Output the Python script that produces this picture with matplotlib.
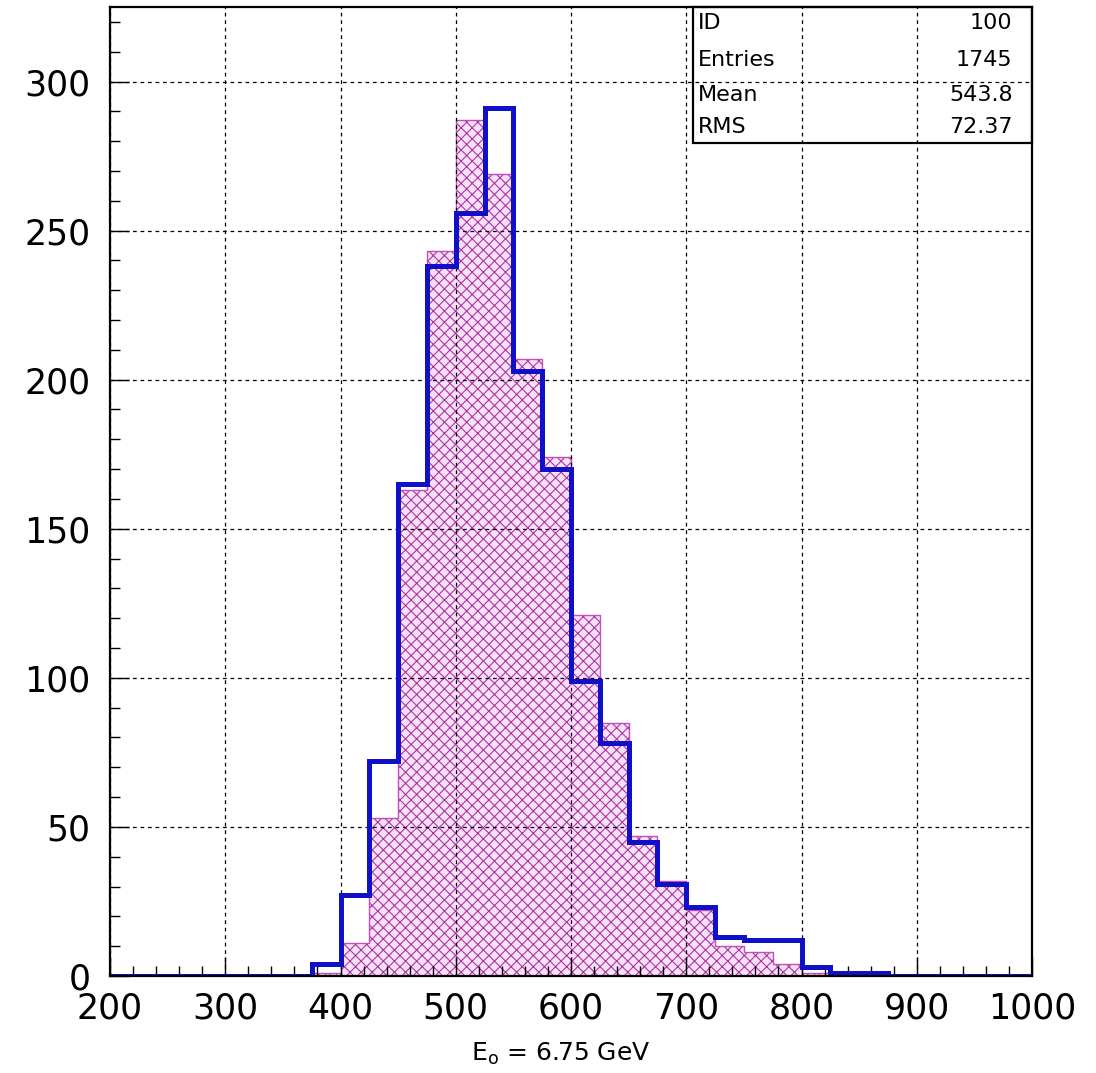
import numpy as np
import matplotlib
matplotlib.use("Agg")
import matplotlib.pyplot as plt
from matplotlib.patches import Rectangle
from matplotlib.ticker import MultipleLocator

# Bin edges: 25-unit bins from 200 to 1000
bin_lo = 200
bin_hi = 1000
bin_w = 25

# Filled (hatched) histogram contents, bins starting at 375
filled_start = 375
filled_counts = [1, 11, 53, 163, 243, 287, 269, 207, 174, 121, 85, 47, 32, 22, 10, 8, 4, 1]

# Outline histogram contents, bins starting at 375
line_start = 375
line_counts = [4, 27, 72, 165, 238, 256, 291, 203, 170, 99, 78, 45, 31, 23, 13, 12, 12, 3, 1, 1]

stats_labels = ["ID", "Entries", "Mean", "RMS"]
stats_values = ["100", "1745", "543.8", "72.37"]

xlabel = r"E$_\mathregular{o}$ = 6.75 GeV"


def full_hist(start, counts):
    edges = np.arange(bin_lo, bin_hi + bin_w, bin_w)
    vals = np.zeros(len(edges) - 1)
    i0 = (start - bin_lo) // bin_w
    vals[i0:i0 + len(counts)] = counts
    return edges, vals


plt.rcParams["font.family"] = ["DejaVu Sans"]
plt.rcParams["hatch.linewidth"] = 0.8

fig = plt.figure(figsize=(10.96, 10.73), dpi=100)
ax = fig.add_axes([0.1004, 0.0904, 0.8412, 0.9031])

edges_f, vals_f = full_hist(filled_start, filled_counts)
edges_l, vals_l = full_hist(line_start, line_counts)

# Hatched histogram: light pink fill with magenta cross-hatching
ax.stairs(vals_f, edges_f, fill=True, facecolor="#fbe0fb", edgecolor="none", zorder=1)
ax.stairs(vals_f, edges_f, fill=True, facecolor="none", edgecolor="#a8389e",
          hatch="xxx", linewidth=0, zorder=1.2)
ax.stairs(vals_f, edges_f, color="#c050b8", linewidth=1.0, zorder=1.4)

# Outline histogram
ax.stairs(vals_l, edges_l, color="#1010c8", linewidth=3.6, zorder=3)

ax.set_xlim(bin_lo, bin_hi)
ax.set_ylim(0, 325)

ax.xaxis.set_major_locator(MultipleLocator(100))
ax.xaxis.set_minor_locator(MultipleLocator(20))
ax.yaxis.set_major_locator(MultipleLocator(50))
ax.yaxis.set_minor_locator(MultipleLocator(10))

ax.grid(True, which="major", color="black", linestyle=(0, (3, 3)), linewidth=0.9, zorder=2)
ax.set_axisbelow(False)

ax.tick_params(axis="both", which="both", direction="in", top=False, right=False,
               color="black", width=1.0)
ax.tick_params(axis="both", which="major", length=14, labelsize=25)
ax.tick_params(axis="both", which="minor", length=7)
ax.tick_params(axis="y", which="major", pad=14)
ax.tick_params(axis="x", which="major", pad=11)

for sp in ax.spines.values():
    sp.set_linewidth(1.6)
    sp.set_zorder(5)

# Statistics box
bx0, by0 = 0.6323, 0.8597
ax.add_patch(Rectangle((bx0, by0), 1 - bx0, 1 - by0, transform=ax.transAxes,
                       facecolor="none", edgecolor="black", linewidth=1.6,
                       zorder=6, clip_on=False))
row_y = [0.9835, 0.9453, 0.9092, 0.8762]
for lab, val, yy in zip(stats_labels, stats_values, row_y):
    ax.text(bx0 + 0.005, yy, lab, transform=ax.transAxes, fontsize=16,
            ha="left", va="center", zorder=7)
    ax.text(0.979, yy, val, transform=ax.transAxes, fontsize=16,
            ha="right", va="center", zorder=7)

fig.text(0.512, 1 - 1054 / 1073, xlabel, fontsize=18, ha="center", va="center")

fig.savefig("out.png", dpi=100)
